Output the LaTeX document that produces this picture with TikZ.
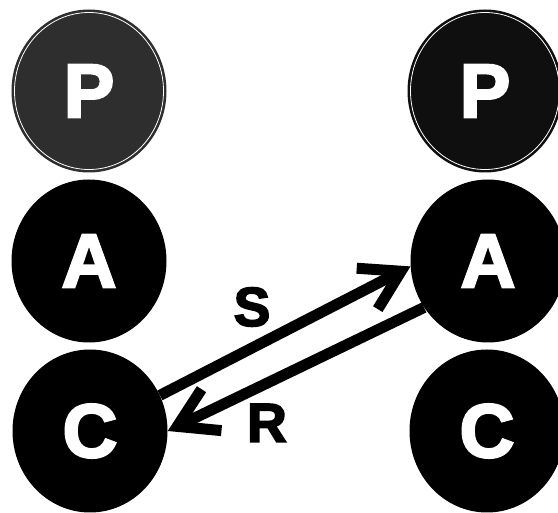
\documentclass[tikz,border=0pt]{standalone}
\usepackage{fontspec}
\newfontfamily\heavy{Liberation Sans}[BoldFeatures={FakeBold=3}]
\usetikzlibrary{shapes.geometric,arrows.meta}
\begin{document}
\begin{tikzpicture}[x=1pt,y=-1pt,
  disc/.style={ellipse,fill=black,minimum width=155pt,minimum height=163pt,inner sep=0pt,
    text=white,font=\heavy\bfseries\fontsize{76}{76}\selectfont},
  ring/.style={draw=white,line width=0.8pt},
  arr/.style={line width=11pt,-{Straight Barb[length=38pt,width=46pt]}},
  lbl/.style={font=\heavy\bfseries\fontsize{55}{55}\selectfont,inner sep=0pt}]
\fill[white] (0,0) rectangle (558,513);
\useasboundingbox (0,0) rectangle (558,513);
% left column
\node[disc,fill=black!82] (P1) at (89,91) {P};
\node[disc] (A1) at (89,261) {A};
\node[disc] (C1) at (90,431) {C};
% right column
\node[disc,fill=black!94] (P2) at (485,91) {P};
\node[disc] (A2) at (488,261) {A};
\node[disc] (C2) at (487,431) {C};
\draw[ring] (P1.center) ellipse (74.5pt and 78.5pt);
\draw[ring] (P2.center) ellipse (74.5pt and 78.5pt);
% arrows
\draw[arr] (C1.27) -- (A2.184);
\draw[arr] (A2.216) -- (C1.0);
\node[lbl] (S) at (252,307) {S};
\node[lbl] (R) at (267,423) {R};
\end{tikzpicture}
\end{document}
